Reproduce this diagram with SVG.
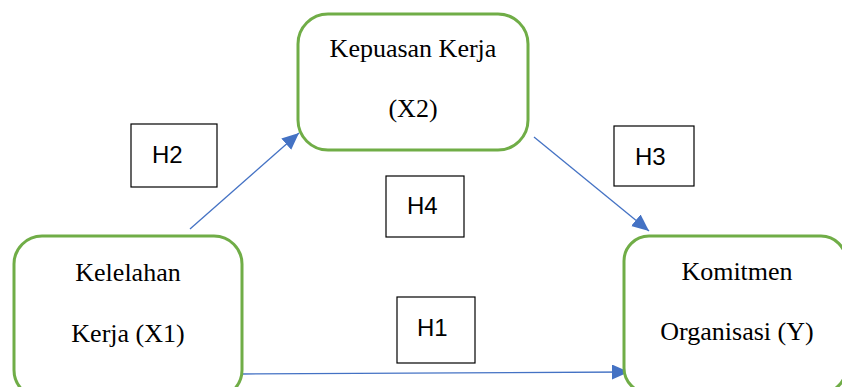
<svg xmlns="http://www.w3.org/2000/svg" width="842" height="387" viewBox="0 0 842 387">
  <style>
    .node { fill: #ffffff; stroke: #70AD47; stroke-width: 3; }
    .label { font-family: "Liberation Serif", "Times New Roman", serif; font-size: 26px; fill: #000000; text-anchor: middle; }
    .hbox { fill: #ffffff; stroke: #000000; stroke-width: 1.2; }
    .htext { font-family: "Liberation Sans", Arial, sans-serif; font-size: 24px; fill: #000000; }
    .edge { stroke: #4472C4; stroke-width: 1.3; fill: none; marker-end: url(#arrow); }
  </style>
  <defs>
    <marker id="arrow" markerUnits="userSpaceOnUse" markerWidth="20" markerHeight="16" refX="17" refY="7.5" orient="auto">
      <path d="M0,0 L17,7.5 L0,15 Z" fill="#4472C4"/>
    </marker>
  </defs>
  <rect width="842" height="387" fill="#ffffff"/>

  <!-- hypothesis labels -->
  <g id="h2"><rect class="hbox" x="131" y="124" width="86" height="63"/><text class="htext" x="152" y="163">H2</text></g>
  <g id="h3"><rect class="hbox" x="614" y="126" width="80" height="60"/><text class="htext" x="635" y="165">H3</text></g>
  <g id="h4"><rect class="hbox" x="386" y="176" width="78" height="61"/><text class="htext" x="407" y="214">H4</text></g>
  <g id="h1"><rect class="hbox" x="397" y="297" width="78" height="66"/><text class="htext" x="417" y="336">H1</text></g>

  <!-- connectors -->
  <g id="connectors">
    <line class="edge" x1="190" y1="229" x2="299" y2="133"/>
    <line class="edge" x1="534" y1="137" x2="649" y2="231"/>
    <line class="edge" x1="242" y1="374" x2="629" y2="372"/>
  </g>

  <!-- variables -->
  <g id="x1">
    <rect class="node" x="14" y="236" width="228" height="162" rx="28" ry="28"/>
    <text class="label" x="128" y="281">Kelelahan</text>
    <text class="label" x="128" y="342">Kerja (X1)</text>
  </g>
  <g id="x2">
    <rect class="node" x="298" y="14" width="230" height="136" rx="30" ry="30"/>
    <text class="label" x="413" y="57">Kepuasan Kerja</text>
    <text class="label" x="413" y="117">(X2)</text>
  </g>
  <g id="y">
    <rect class="node" x="624" y="236" width="222" height="157" rx="25" ry="25"/>
    <text class="label" x="737" y="280">Komitmen</text>
    <text class="label" x="737" y="340">Organisasi (Y)</text>
  </g>
</svg>
